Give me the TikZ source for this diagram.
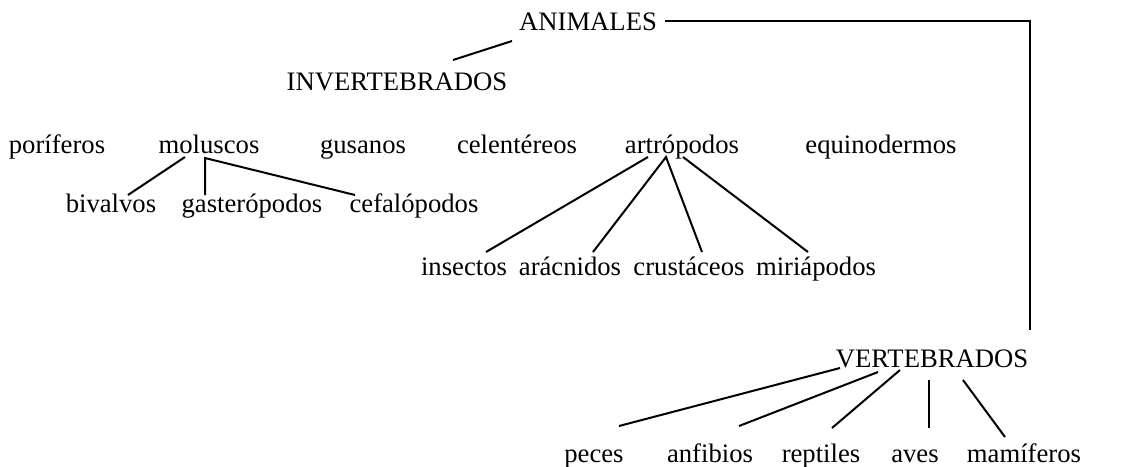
\documentclass[tikz,border=0pt]{standalone}
\usepackage{fontspec}
\setmainfont{Liberation Serif}
\usetikzlibrary{calc}

\begin{document}
\begin{tikzpicture}[x=0.45pt,y=-0.45pt,line width=0.9pt,
    lbl/.style={anchor=base,inner sep=0pt,font=\fontsize{12}{14}\selectfont}]
    \useasboundingbox (0,0) rectangle (1147,466);
    \node[lbl] (ani) at (588,30) {ANIMALES};
    \node[lbl] (inv) at (397,90) {INVERTEBRADOS};
    \node[lbl] (por) at (57,153) {poríferos};
    \node[lbl] (mol) at (209,153) {moluscos};
    \node[lbl] (gus) at (363,153) {gusanos};
    \node[lbl] (cel) at (517,153) {celentéreos};
    \node[lbl] (art) at (682,153) {artrópodos};
    \node[lbl] (equ) at (881,153) {equinodermos};
    \node[lbl] (biv) at (111,212) {bivalvos};
    \node[lbl] (gas) at (252,212) {gasterópodos};
    \node[lbl] (cef) at (414,212) {cefalópodos};
    \node[lbl] (ins) at (464,275) {insectos};
    \node[lbl] (ara) at (570,275) {arácnidos};
    \node[lbl] (cru) at (689,275) {crustáceos};
    \node[lbl] (mir) at (816,275) {miriápodos};
    \node[lbl] (ver) at (932,367) {VERTEBRADOS};
    \node[lbl] (pec) at (594,462) {peces};
    \node[lbl] (anf) at (710,462) {anfibios};
    \node[lbl] (rep) at (821,462) {reptiles};
    \node[lbl] (ave) at (915,462) {aves};
    \node[lbl] (mam) at (1024,462) {mamíferos};
    \draw ($(ani.base)+(77,-9)$) -| ($(ver.base)+(98,-37)$);
    \draw ($(ani.base)+(-76,11)$)--($(inv.base)+(56,-30)$);
    \draw ($(mol.base)+(-24,4)$)--($(biv.base)+(17,-17)$);
    \draw ($(gas.base)+(-47,-17)$)--($(mol.base)+(-4,5)$)--($(cef.base)+(-59,-17)$);
    \draw ($(art.base)+(-34,4)$)--($(ins.base)+(22,-23)$);
    \draw ($(ara.base)+(23,-23)$)--($(art.base)+(-16,4)$)--($(cru.base)+(13,-23)$);
    \draw ($(art.base)+(1,4)$)--($(mir.base)+(-8,-23)$);
    \draw ($(ver.base)+(-92,1)$)--($(pec.base)+(25,-36)$);
    \draw ($(ver.base)+(-54,5)$)--($(anf.base)+(29,-36)$);
    \draw ($(ver.base)+(-32,3)$)--($(rep.base)+(11,-34)$);
    \draw ($(ver.base)+(-3,13)$)--($(ave.base)+(14,-34)$);
    \draw ($(ver.base)+(31,13)$)--($(mam.base)+(-19,-25)$);
\end{tikzpicture}
\end{document}
